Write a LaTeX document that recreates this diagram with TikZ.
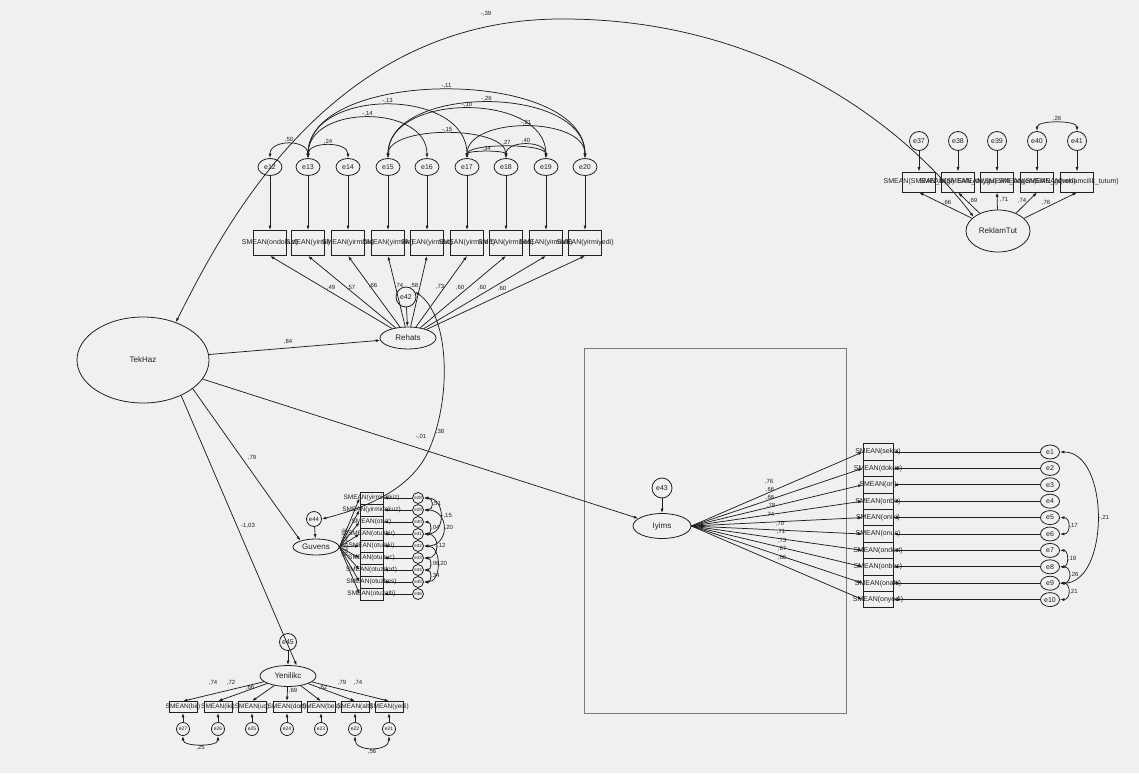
\documentclass[tikz,border=0pt]{standalone}
\usepackage{fontspec}
\setmainfont{Liberation Sans}
\usetikzlibrary{arrows.meta,shapes.geometric}
\definecolor{bg}{HTML}{F0F0F0}
\definecolor{ink}{HTML}{202020}
\definecolor{framec}{HTML}{7A7A7A}

\tikzset{
  con/.style={draw=ink, line width=0.75pt},
  arr/.style={con, -{Latex[length=4.5pt,width=3pt]}},
  cov/.style={con, {Latex[length=4.5pt,width=3pt]}-{Latex[length=4.5pt,width=3pt]}},
  latent/.style={draw=ink, line width=0.8pt, ellipse, inner sep=0pt, text=ink, font=\fontsize{8}{9}\selectfont},
  errc/.style={draw=ink, line width=0.8pt, ellipse, inner sep=0pt, text=ink, font=\fontsize{7}{8}\selectfont},
  ind/.style={draw=ink, line width=0.8pt, rectangle, inner sep=0pt},
  indtext/.style={inner sep=0pt, text=ink, font=\fontsize{7}{8}\selectfont},
  est/.style={inner sep=0.8pt, text=ink, font=\fontsize{6}{7}\selectfont},
}
% double-headed covariance arcs: above, to the right, below
\newcommand\covup[5]{\draw[cov] (#1.north) .. controls +(0,-#3) and +(0,-#3) .. (#2.north) node[est,pos=0.5,above] (#5) {#4};}
\newcommand\covright[5]{\draw[cov] (#1.east) .. controls +(#3,0) and +(#3,0) .. (#2.east) node[est,pos=0.5,right] (#5) {#4};}
\newcommand\covdown[5]{\draw[cov] (#1.south) .. controls +(0,#3) and +(0,#3) .. (#2.south) node[est,pos=0.5,below] (#5) {#4};}

\begin{document}
\begin{tikzpicture}[x=1pt,y=-1pt]
\useasboundingbox (0,0) rectangle (1139,773);
\fill[bg] (0,0) rectangle (1139,773);

% group frame around Iyims
\draw[framec, line width=0.8pt] (584,348) rectangle (846,713);

% latent variables
\node[latent, minimum width=132pt, minimum height=86pt] (TekHaz) at (143,360) {TekHaz};
\node[latent, minimum width=56pt, minimum height=22pt] (Rehats) at (408,338) {Rehats};
\node[latent, minimum width=46pt, minimum height=16pt] (Guvens) at (316,547) {Guvens};
\node[latent, minimum width=58pt, minimum height=25pt] (Iyims) at (662,526) {Iyims};
\node[latent, minimum width=56pt, minimum height=21pt] (Yenilikc) at (288,676) {Yenilikc};
\node[latent, minimum width=64pt, minimum height=42pt] (ReklamTut) at (998,231) {ReklamTut};

% disturbances
\node[errc, minimum size=20pt] (e42) at (406,297) {e42};
\node[errc, minimum size=15pt, font=\fontsize{6}{7}\selectfont] (e44) at (314,519) {e44};
\node[errc, minimum size=20pt] (e43) at (662,488) {e43};
\node[errc, minimum size=17pt] (e45) at (288,642) {e45};
\draw[arr] (e42) -- (Rehats);
\draw[arr] (e44) -- (Guvens);
\draw[arr] (e43) -- (Iyims);
\draw[arr] (e45) -- (Yenilikc);

% structural paths
\draw[arr] (TekHaz) -- (Rehats);
\draw[arr] (TekHaz) -- (Iyims);
\draw[arr] (TekHaz.-30) -- (Guvens.158);
\draw[arr] (TekHaz.-43) -- (Yenilikc.50);
\node[est] (p84) at (288,342) {,84};
\node[est] (p38) at (440,432) {,38};
\node[est] (p79) at (252,458) {,79};
\node[est] (p103) at (248,526) {-1,03};

% TekHaz <-> ReklamTut
\draw[cov] (TekHaz.49) .. controls (225,225) and (330,20) .. (560,19)
           .. controls (760,18) and (900,120) .. (ReklamTut.150);
\node[est] (c39) at (486,14) {-,39};

% e42 <-> e44
\draw[cov] (e42.30) .. controls (450,315) and (452,400) .. (428,452)
           .. controls (410,490) and (365,508) .. (e44.east);
\node[est] (c01) at (421,437) {-,01};

% ---------- Rehats indicators ----------
\foreach \i/\xx/\num in {1/270/12, 2/308/13, 3/348/14, 4/388/15, 5/427/16,
    6/467/17, 7/506/18, 8/546/19, 9/585/20} {
  \node[errc, minimum width=24pt, minimum height=17pt] (e\num) at (\xx,167) {e\num};
  \node[ind, minimum width=33pt, minimum height=25pt] (r\i) at (\xx,243) {};
  \draw[arr] (e\num) -- (r\i);
  \draw[arr] (Rehats) -- (r\i.south);
}
\foreach \i/\lab in {1/ondokuz, 2/yirmi, 3/yirmibir, 4/yirmiiki, 5/yirmiuc,
    6/yirmidort, 7/yirmibes, 8/yirmialti, 9/yirmiyedi} {
  \node[indtext] (rt\i) at (r\i) {SMEAN(\lab)};
}
\node[est] (lr1) at (331,288) {,49};
\node[est] (lr2) at (351,288) {,57};
\node[est] (lr3) at (373,286) {,66};
\node[est] (lr4) at (399,286) {,74};
\node[est] (lr5) at (414,286) {,58};
\node[est] (lr6) at (440,287) {,73};
\node[est] (lr7) at (460,288) {,60};
\node[est] (lr8) at (482,288) {,60};
\node[est] (lr9) at (502,289) {,60};

\covup{e12}{e13}{19}{,50}{c1}
\covup{e13}{e14}{17}{,24}{c2}
\covup{e13}{e16}{54}{-,14}{c3}
\covup{e13}{e17}{71}{-,13}{c4}
\covup{e13}{e20}{91}{-,11}{c5}
\covup{e15}{e20}{74}{-,26}{c6}
\covup{e15}{e19}{66}{-,10}{c7}
\covup{e15}{e18}{33}{-,15}{c8}
\covup{e17}{e20}{42}{-,21}{c9}
\covup{e17}{e19}{15}{,27}{c10}
\covup{e18}{e19}{18}{,40}{c11}
\covup{e17}{e18}{8}{,34}{c12}

% ---------- ReklamTut indicators ----------
\foreach \i/\xx/\num in {1/919/37, 2/958/38, 3/997/39, 4/1037/40, 5/1077/41} {
  \node[errc, minimum width=19pt, minimum height=19pt] (e\num) at (\xx,141) {e\num};
  \node[ind, minimum width=33pt, minimum height=20pt] (k\i) at (\xx,182) {};
  \draw[arr] (e\num) -- (k\i);
  \draw[arr] (ReklamTut) -- (k\i.south);
}
\foreach \i/\lab in {1/SMEAN\_bilgi, 2/SMEAN\_duygu, 3/SMEAN\_begeni, 4/SMEAN\_guven, 5/reklamcilik\_tutum} {
  \node[indtext] (kt\i) at (k\i) {SMEAN(\lab)};
}
\node[est] (lk1) at (947,203) {,66};
\node[est] (lk2) at (973,201) {,69};
\node[est] (lk3) at (1004,200) {,71};
\node[est] (lk4) at (1022,201) {,74};
\node[est] (lk5) at (1046,203) {,76};
\covup{e40}{e41}{11}{,26}{c28}

% ---------- Iyims indicators ----------
\foreach \i/\yy in {1/452, 2/468.4, 3/484.8, 4/501.2, 5/517.6, 6/534,
    7/550.4, 8/566.8, 9/583.2, 10/599.6} {
  \node[ind, minimum width=30pt, minimum height=16.4pt] (i\i) at (878,\yy) {};
  \node[errc, minimum width=19pt, minimum height=14pt] (e\i) at (1050,\yy) {e\i};
  \draw[arr] (e\i) -- (i\i);
  \draw[arr] (Iyims.east) -- (i\i.west);
}
\foreach \i/\lab in {1/sekiz, 2/dokuz, 3/on, 4/onbir, 5/oniki, 6/onuc,
    7/ondort, 8/onbes, 9/onalti, 10/onyedi} {
  \node[indtext] (it\i) at (i\i) {SMEAN(\lab)};
}
\node[est] (li1) at (769,482) {,76};
\node[est] (li2) at (770,490) {,66};
\node[est] (li3) at (770,498) {,66};
\node[est] (li4) at (771,506) {,78};
\node[est] (li5) at (770,515) {,74};
\node[est] (li6) at (780,524) {,70};
\node[est] (li7) at (781,532) {,71};
\node[est] (li8) at (782,541) {,73};
\node[est] (li9) at (782,549) {,67};
\node[est] (li10) at (782,558) {,66};

\covright{e1}{e9}{50}{-,21}{c13}
\covright{e5}{e6}{11}{,17}{c14}
\covright{e7}{e8}{9}{,19}{c15}
\covright{e8}{e9}{12}{,26}{c16}
\covright{e9}{e10}{11}{,21}{c17}

% ---------- Guvens indicators ----------
\foreach \i/\yy/\num/\ll in {1/498/28/{,66}, 2/510/29/{,66}, 3/522/30/{,72}, 4/534/31/{,74},
    5/546/32/{,71}, 6/558/33/{,69}, 7/570/34/{,73}, 8/582/35/{,70}, 9/594/36/{,68}} {
  \node[ind, minimum width=23pt, minimum height=12pt] (g\i) at (371.5,\yy) {};
  \node[errc, minimum size=11pt, font=\fontsize{4.5}{5}\selectfont] (e\num) at (418,\yy) {e\num};
  \draw[arr] (e\num) -- (g\i);
  \draw[arr] (Guvens.east) -- (g\i.west) node[est, pos=0.25, above, font=\fontsize{5}{6}\selectfont] (lg\i) {\ll};
}
\foreach \i/\lab in {1/yirmisekiz, 2/yirmidokuz, 3/otuz, 4/otuzbir, 5/otuziki,
    6/otuzuc, 7/otuzdort, 8/otuzbes, 9/otuzalti} {
  \node[indtext, font=\fontsize{6.5}{7}\selectfont] (gt\i) at (g\i) {SMEAN(\lab)};
}
\covright{e28}{e29}{10}{,51}{c18}
\covright{e28}{e31}{22}{-,15}{c19}
\covright{e30}{e31}{8}{,04}{c20}
\covright{e29}{e32}{26}{,20}{c21}
\covright{e31}{e33}{16}{,12}{c22}
\covright{e33}{e34}{8}{,06}{c23}
\covright{e32}{e35}{18}{,20}{c24}
\covright{e34}{e35}{8}{,34}{c25}

% ---------- Yenilikc indicators ----------
\foreach \i/\xx/\num in {1/183/27, 2/218/26, 3/252/25, 4/287/24, 5/321/23, 6/355/22, 7/389/21} {
  \node[ind, minimum width=28pt, minimum height=11pt] (y\i) at (\xx,707) {};
  \node[errc, minimum size=13pt, font=\fontsize{5}{6}\selectfont] (e\num) at (\xx,729) {e\num};
  \draw[arr] (e\num) -- (y\i);
  \draw[arr] (Yenilikc) -- (y\i.north);
}
\foreach \i/\lab in {1/bir, 2/iki, 3/uc, 4/dort, 5/bes, 6/alti, 7/yedi} {
  \node[indtext, font=\fontsize{6.5}{7}\selectfont] (yt\i) at (y\i) {SMEAN(\lab)};
}
\node[est] (ly1) at (213,683) {,74};
\node[est] (ly2) at (231,683) {,72};
\node[est] (ly3) at (250,688) {,66};
\node[est] (ly4) at (293,691) {,69};
\node[est] (ly5) at (323,688) {,62};
\node[est] (ly6) at (342,683) {,79};
\node[est] (ly7) at (358,683) {,74};
\covdown{e27}{e26}{11}{,25}{c26}
\covdown{e22}{e21}{16}{,56}{c27}
\end{tikzpicture}
\end{document}
